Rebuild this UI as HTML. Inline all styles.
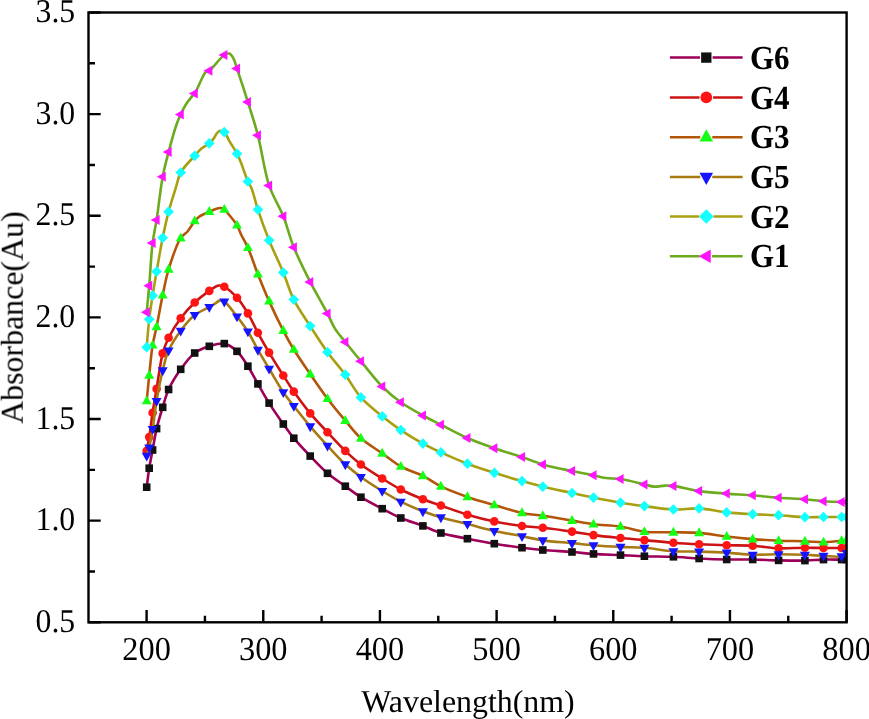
<!DOCTYPE html><html><head><meta charset="utf-8"><title>UV-Vis absorbance</title>
<style>html,body{margin:0;padding:0;background:#fff;}body{width:869px;height:719px;overflow:hidden;}svg{display:block;will-change:transform;}text{font-family:"Liberation Serif",serif;fill:#000;font-kerning:normal;text-rendering:geometricPrecision;}</style></head><body>
<svg width="869" height="719" viewBox="0 0 869 719">
<rect width="869" height="719" fill="#fff"/>
<defs><clipPath id="cp"><rect x="88.5" y="12.5" width="758.1" height="609.8"/></clipPath></defs>
<g clip-path="url(#cp)">
<path d="M146.70,487.20C147.53,480.87 148.21,474.45 149.20,468.20C150.18,462.05 151.42,456.31 152.60,450.00C153.88,443.16 154.93,435.69 156.60,428.60C158.29,421.45 160.61,414.06 162.70,407.30C164.62,401.08 165.86,395.47 168.60,389.50C171.67,382.81 176.23,375.50 180.70,369.30C184.97,363.38 189.52,356.90 194.70,353.00C199.18,349.62 204.30,347.87 209.30,346.30C214.17,344.77 219.66,342.74 224.30,343.60C228.88,344.45 233.23,347.84 237.00,351.30C241.21,355.16 244.49,360.91 247.90,366.20C251.48,371.75 254.45,377.89 257.90,383.90C261.51,390.18 265.02,396.64 269.10,403.10C273.44,409.99 278.86,417.74 283.30,424.00C287.01,429.23 289.76,433.30 293.80,438.20C298.53,443.94 304.59,450.26 310.20,456.10C315.82,461.96 321.49,468.18 327.50,473.30C333.21,478.16 339.55,482.09 345.30,486.20C350.66,490.03 355.18,493.66 360.90,497.20C367.34,501.19 375.31,505.12 382.20,508.70C388.58,512.02 394.24,515.20 400.80,518.00C407.76,520.97 415.93,523.28 422.90,525.90C429.23,528.28 434.23,530.98 440.90,533.00C448.79,535.39 458.52,536.92 467.40,538.70C476.32,540.49 485.25,542.21 494.30,543.70C503.45,545.21 513.42,546.61 522.00,547.70C529.42,548.65 535.27,549.33 542.80,550.00C551.70,550.80 563.01,551.30 572.00,552.00C579.72,552.61 585.92,553.40 593.50,553.90C601.98,554.46 611.77,554.71 620.50,555.10C628.71,555.47 636.05,555.92 644.40,556.20C653.60,556.51 664.03,556.39 673.40,556.80C682.23,557.18 690.38,558.05 699.10,558.50C708.13,558.96 717.64,559.34 726.70,559.50C735.49,559.66 744.04,559.35 752.70,559.50C761.34,559.65 769.93,560.22 778.60,560.40C787.33,560.58 796.89,560.78 804.90,560.60C811.64,560.44 817.34,559.77 823.50,559.60C829.57,559.44 837.44,559.64 841.60,559.60C843.79,559.58 844.93,559.53 846.60,559.50" fill="none" stroke="#9E0059" stroke-width="2.6" stroke-linejoin="round" stroke-linecap="round"/>
<g><rect x="142.90" y="483.40" width="7.60" height="7.60" fill="#111111"/><rect x="145.40" y="464.40" width="7.60" height="7.60" fill="#111111"/><rect x="148.80" y="446.20" width="7.60" height="7.60" fill="#111111"/><rect x="152.80" y="424.80" width="7.60" height="7.60" fill="#111111"/><rect x="158.90" y="403.50" width="7.60" height="7.60" fill="#111111"/><rect x="164.80" y="385.70" width="7.60" height="7.60" fill="#111111"/><rect x="176.90" y="365.50" width="7.60" height="7.60" fill="#111111"/><rect x="190.90" y="349.20" width="7.60" height="7.60" fill="#111111"/><rect x="205.50" y="342.50" width="7.60" height="7.60" fill="#111111"/><rect x="220.50" y="339.80" width="7.60" height="7.60" fill="#111111"/><rect x="233.20" y="347.50" width="7.60" height="7.60" fill="#111111"/><rect x="244.10" y="362.40" width="7.60" height="7.60" fill="#111111"/><rect x="254.10" y="380.10" width="7.60" height="7.60" fill="#111111"/><rect x="265.30" y="399.30" width="7.60" height="7.60" fill="#111111"/><rect x="279.50" y="420.20" width="7.60" height="7.60" fill="#111111"/><rect x="290.00" y="434.40" width="7.60" height="7.60" fill="#111111"/><rect x="306.40" y="452.30" width="7.60" height="7.60" fill="#111111"/><rect x="323.70" y="469.50" width="7.60" height="7.60" fill="#111111"/><rect x="341.50" y="482.40" width="7.60" height="7.60" fill="#111111"/><rect x="357.10" y="493.40" width="7.60" height="7.60" fill="#111111"/><rect x="378.40" y="504.90" width="7.60" height="7.60" fill="#111111"/><rect x="397.00" y="514.20" width="7.60" height="7.60" fill="#111111"/><rect x="419.10" y="522.10" width="7.60" height="7.60" fill="#111111"/><rect x="437.10" y="529.20" width="7.60" height="7.60" fill="#111111"/><rect x="463.60" y="534.90" width="7.60" height="7.60" fill="#111111"/><rect x="490.50" y="539.90" width="7.60" height="7.60" fill="#111111"/><rect x="518.20" y="543.90" width="7.60" height="7.60" fill="#111111"/><rect x="539.00" y="546.20" width="7.60" height="7.60" fill="#111111"/><rect x="568.20" y="548.20" width="7.60" height="7.60" fill="#111111"/><rect x="589.70" y="550.10" width="7.60" height="7.60" fill="#111111"/><rect x="616.70" y="551.30" width="7.60" height="7.60" fill="#111111"/><rect x="640.60" y="552.40" width="7.60" height="7.60" fill="#111111"/><rect x="669.60" y="553.00" width="7.60" height="7.60" fill="#111111"/><rect x="695.30" y="554.70" width="7.60" height="7.60" fill="#111111"/><rect x="722.90" y="555.70" width="7.60" height="7.60" fill="#111111"/><rect x="748.90" y="555.70" width="7.60" height="7.60" fill="#111111"/><rect x="774.80" y="556.60" width="7.60" height="7.60" fill="#111111"/><rect x="801.10" y="556.80" width="7.60" height="7.60" fill="#111111"/><rect x="819.70" y="555.80" width="7.60" height="7.60" fill="#111111"/><rect x="837.80" y="555.80" width="7.60" height="7.60" fill="#111111"/><rect x="842.80" y="555.70" width="7.60" height="7.60" fill="#111111"/></g>
<path d="M146.70,450.70C147.53,446.17 148.36,442.30 149.20,437.10C150.32,430.16 151.36,420.77 152.60,412.70C153.83,404.71 155.12,397.62 156.60,388.90C158.41,378.24 160.16,362.74 162.70,353.40C164.43,347.05 165.96,343.17 168.60,337.80C171.70,331.49 176.23,324.19 180.70,318.20C184.97,312.47 189.77,307.15 194.70,302.50C199.34,298.12 204.94,293.91 209.30,290.90C212.55,288.66 215.43,286.08 218.20,285.60C220.35,285.23 222.06,285.71 224.30,286.80C227.98,288.58 233.17,293.46 237.00,297.70C241.09,302.24 244.52,307.77 247.90,313.40C251.52,319.42 254.41,326.33 257.90,332.80C261.47,339.40 265.07,345.80 269.10,352.60C273.48,360.00 278.89,368.56 283.30,375.50C287.03,381.36 289.80,385.90 293.80,391.60C298.56,398.39 304.48,406.54 310.20,413.40C315.73,420.04 321.67,425.97 327.50,432.20C333.36,438.47 339.43,445.28 345.30,450.90C350.55,455.93 355.13,460.12 360.90,464.50C367.30,469.36 375.29,474.19 382.20,478.50C388.56,482.47 394.23,486.13 400.80,489.50C407.75,493.06 415.86,496.43 422.90,499.20C429.16,501.66 434.32,503.21 440.90,505.50C448.88,508.28 458.47,512.04 467.40,514.70C476.27,517.34 485.23,519.52 494.30,521.40C503.43,523.29 513.41,524.92 522.00,526.00C529.41,526.93 535.29,526.99 542.80,527.80C551.72,528.77 563.02,530.29 572.00,531.60C579.72,532.73 585.91,534.08 593.50,535.10C601.97,536.24 611.77,537.15 620.50,538.00C628.71,538.80 636.05,539.34 644.40,540.10C653.60,540.93 664.02,542.09 673.40,542.80C682.22,543.47 690.38,543.89 699.10,544.30C708.13,544.73 717.64,545.07 726.70,545.30C735.49,545.53 744.05,545.20 752.70,545.70C761.35,546.20 769.92,547.96 778.60,548.30C787.32,548.64 796.89,547.73 804.90,547.70C811.64,547.68 817.34,547.95 823.50,548.00C829.57,548.05 837.44,548.00 841.60,548.00C843.78,548.00 844.93,548.00 846.60,548.00" fill="none" stroke="#CC1414" stroke-width="2.6" stroke-linejoin="round" stroke-linecap="round"/>
<g><circle cx="146.70" cy="450.70" r="4.30" fill="#FF1414"/><circle cx="149.20" cy="437.10" r="4.30" fill="#FF1414"/><circle cx="152.60" cy="412.70" r="4.30" fill="#FF1414"/><circle cx="156.60" cy="388.90" r="4.30" fill="#FF1414"/><circle cx="162.70" cy="353.40" r="4.30" fill="#FF1414"/><circle cx="168.60" cy="337.80" r="4.30" fill="#FF1414"/><circle cx="180.70" cy="318.20" r="4.30" fill="#FF1414"/><circle cx="194.70" cy="302.50" r="4.30" fill="#FF1414"/><circle cx="209.30" cy="290.90" r="4.30" fill="#FF1414"/><circle cx="224.30" cy="286.80" r="4.30" fill="#FF1414"/><circle cx="237.00" cy="297.70" r="4.30" fill="#FF1414"/><circle cx="247.90" cy="313.40" r="4.30" fill="#FF1414"/><circle cx="257.90" cy="332.80" r="4.30" fill="#FF1414"/><circle cx="269.10" cy="352.60" r="4.30" fill="#FF1414"/><circle cx="283.30" cy="375.50" r="4.30" fill="#FF1414"/><circle cx="293.80" cy="391.60" r="4.30" fill="#FF1414"/><circle cx="310.20" cy="413.40" r="4.30" fill="#FF1414"/><circle cx="327.50" cy="432.20" r="4.30" fill="#FF1414"/><circle cx="345.30" cy="450.90" r="4.30" fill="#FF1414"/><circle cx="360.90" cy="464.50" r="4.30" fill="#FF1414"/><circle cx="382.20" cy="478.50" r="4.30" fill="#FF1414"/><circle cx="400.80" cy="489.50" r="4.30" fill="#FF1414"/><circle cx="422.90" cy="499.20" r="4.30" fill="#FF1414"/><circle cx="440.90" cy="505.50" r="4.30" fill="#FF1414"/><circle cx="467.40" cy="514.70" r="4.30" fill="#FF1414"/><circle cx="494.30" cy="521.40" r="4.30" fill="#FF1414"/><circle cx="522.00" cy="526.00" r="4.30" fill="#FF1414"/><circle cx="542.80" cy="527.80" r="4.30" fill="#FF1414"/><circle cx="572.00" cy="531.60" r="4.30" fill="#FF1414"/><circle cx="593.50" cy="535.10" r="4.30" fill="#FF1414"/><circle cx="620.50" cy="538.00" r="4.30" fill="#FF1414"/><circle cx="644.40" cy="540.10" r="4.30" fill="#FF1414"/><circle cx="673.40" cy="542.80" r="4.30" fill="#FF1414"/><circle cx="699.10" cy="544.30" r="4.30" fill="#FF1414"/><circle cx="726.70" cy="545.30" r="4.30" fill="#FF1414"/><circle cx="752.70" cy="545.70" r="4.30" fill="#FF1414"/><circle cx="778.60" cy="548.30" r="4.30" fill="#FF1414"/><circle cx="804.90" cy="547.70" r="4.30" fill="#FF1414"/><circle cx="823.50" cy="548.00" r="4.30" fill="#FF1414"/><circle cx="841.60" cy="548.00" r="4.30" fill="#FF1414"/><circle cx="846.60" cy="548.00" r="4.30" fill="#FF1414"/></g>
<path d="M146.70,401.00C147.53,392.47 148.27,384.28 149.20,375.40C150.21,365.75 151.15,353.99 152.60,345.20C153.74,338.28 155.17,333.77 156.60,326.80C158.47,317.67 160.59,305.10 162.70,295.10C164.61,286.07 165.88,278.29 168.60,269.40C171.67,259.37 176.52,244.42 180.70,238.10C182.92,234.74 185.70,233.61 187.50,231.50C188.92,229.84 189.75,228.38 190.90,226.70C192.14,224.89 193.38,222.63 194.70,221.00C195.83,219.60 196.93,218.41 198.20,217.40C199.41,216.43 200.58,215.83 202.10,215.00C204.11,213.91 206.95,212.64 209.30,211.60C211.51,210.62 213.77,209.51 215.80,208.90C217.49,208.40 219.12,207.85 220.60,208.00C221.93,208.13 223.12,208.68 224.30,209.50C225.75,210.51 226.83,212.12 228.40,214.00C230.79,216.86 234.81,221.51 237.00,225.20C238.86,228.33 239.50,231.16 241.10,234.50C243.03,238.54 245.57,242.46 247.90,247.70C251.12,254.93 254.39,265.36 257.90,274.20C261.46,283.16 265.01,291.98 269.10,301.10C273.43,310.76 278.80,321.91 283.30,330.60C286.96,337.66 289.76,342.87 293.80,349.50C298.53,357.25 304.61,365.93 310.20,374.10C315.84,382.34 321.55,390.84 327.50,398.70C333.26,406.32 339.50,413.74 345.30,420.60C350.61,426.87 354.94,432.96 360.90,438.30C367.16,443.91 375.34,448.45 382.20,453.30C388.61,457.83 394.12,462.76 400.80,466.50C407.66,470.33 416.01,472.44 422.90,475.90C429.32,479.12 434.18,483.13 440.90,486.40C448.75,490.22 458.47,493.79 467.40,496.90C476.27,499.99 485.26,502.35 494.30,505.00C503.46,507.68 513.37,511.08 522.00,512.90C529.37,514.46 535.29,514.66 542.80,515.80C551.72,517.15 563.01,519.11 572.00,520.60C579.72,521.88 585.91,523.24 593.50,524.20C601.97,525.27 611.82,525.19 620.50,526.50C628.75,527.74 636.00,530.71 644.40,531.70C653.55,532.78 664.03,532.09 673.40,532.30C682.23,532.49 690.40,532.23 699.10,532.90C708.15,533.59 717.63,535.46 726.70,536.50C735.49,537.51 744.04,538.40 752.70,539.10C761.34,539.80 769.93,540.33 778.60,540.70C787.33,541.07 796.89,541.01 804.90,541.30C811.64,541.54 817.35,542.31 823.50,542.20C829.58,542.10 837.45,541.20 841.60,540.70C843.79,540.43 844.93,540.17 846.60,539.90" fill="none" stroke="#B3560A" stroke-width="2.6" stroke-linejoin="round" stroke-linecap="round"/>
<g><path d="M141.70,404.35L151.70,404.35L146.70,395.45Z" fill="#14FF14"/><path d="M144.20,378.75L154.20,378.75L149.20,369.85Z" fill="#14FF14"/><path d="M147.60,348.55L157.60,348.55L152.60,339.65Z" fill="#14FF14"/><path d="M151.60,330.15L161.60,330.15L156.60,321.25Z" fill="#14FF14"/><path d="M157.70,298.45L167.70,298.45L162.70,289.55Z" fill="#14FF14"/><path d="M163.60,272.75L173.60,272.75L168.60,263.85Z" fill="#14FF14"/><path d="M175.70,241.45L185.70,241.45L180.70,232.55Z" fill="#14FF14"/><path d="M189.70,224.35L199.70,224.35L194.70,215.45Z" fill="#14FF14"/><path d="M204.30,214.95L214.30,214.95L209.30,206.05Z" fill="#14FF14"/><path d="M219.30,212.85L229.30,212.85L224.30,203.95Z" fill="#14FF14"/><path d="M232.00,228.55L242.00,228.55L237.00,219.65Z" fill="#14FF14"/><path d="M242.90,251.05L252.90,251.05L247.90,242.15Z" fill="#14FF14"/><path d="M252.90,277.55L262.90,277.55L257.90,268.65Z" fill="#14FF14"/><path d="M264.10,304.45L274.10,304.45L269.10,295.55Z" fill="#14FF14"/><path d="M278.30,333.95L288.30,333.95L283.30,325.05Z" fill="#14FF14"/><path d="M288.80,352.85L298.80,352.85L293.80,343.95Z" fill="#14FF14"/><path d="M305.20,377.45L315.20,377.45L310.20,368.55Z" fill="#14FF14"/><path d="M322.50,402.05L332.50,402.05L327.50,393.15Z" fill="#14FF14"/><path d="M340.30,423.95L350.30,423.95L345.30,415.05Z" fill="#14FF14"/><path d="M355.90,441.65L365.90,441.65L360.90,432.75Z" fill="#14FF14"/><path d="M377.20,456.65L387.20,456.65L382.20,447.75Z" fill="#14FF14"/><path d="M395.80,469.85L405.80,469.85L400.80,460.95Z" fill="#14FF14"/><path d="M417.90,479.25L427.90,479.25L422.90,470.35Z" fill="#14FF14"/><path d="M435.90,489.75L445.90,489.75L440.90,480.85Z" fill="#14FF14"/><path d="M462.40,500.25L472.40,500.25L467.40,491.35Z" fill="#14FF14"/><path d="M489.30,508.35L499.30,508.35L494.30,499.45Z" fill="#14FF14"/><path d="M517.00,516.25L527.00,516.25L522.00,507.35Z" fill="#14FF14"/><path d="M537.80,519.15L547.80,519.15L542.80,510.25Z" fill="#14FF14"/><path d="M567.00,523.95L577.00,523.95L572.00,515.05Z" fill="#14FF14"/><path d="M588.50,527.55L598.50,527.55L593.50,518.65Z" fill="#14FF14"/><path d="M615.50,529.85L625.50,529.85L620.50,520.95Z" fill="#14FF14"/><path d="M639.40,535.05L649.40,535.05L644.40,526.15Z" fill="#14FF14"/><path d="M668.40,535.65L678.40,535.65L673.40,526.75Z" fill="#14FF14"/><path d="M694.10,536.25L704.10,536.25L699.10,527.35Z" fill="#14FF14"/><path d="M721.70,539.85L731.70,539.85L726.70,530.95Z" fill="#14FF14"/><path d="M747.70,542.45L757.70,542.45L752.70,533.55Z" fill="#14FF14"/><path d="M773.60,544.05L783.60,544.05L778.60,535.15Z" fill="#14FF14"/><path d="M799.90,544.65L809.90,544.65L804.90,535.75Z" fill="#14FF14"/><path d="M818.50,545.55L828.50,545.55L823.50,536.65Z" fill="#14FF14"/><path d="M836.60,544.05L846.60,544.05L841.60,535.15Z" fill="#14FF14"/><path d="M841.60,543.25L851.60,543.25L846.60,534.35Z" fill="#14FF14"/></g>
<path d="M146.70,455.70C147.53,453.00 148.40,450.88 149.20,447.60C150.40,442.70 151.49,435.84 152.60,429.00C153.96,420.63 154.97,410.53 156.60,401.00C158.31,390.98 160.45,379.37 162.70,370.30C164.53,362.93 165.74,356.92 168.60,350.50C171.63,343.70 176.22,336.73 180.70,330.70C184.96,324.95 189.61,319.05 194.70,315.00C199.23,311.40 205.50,309.19 209.30,307.00C211.79,305.56 213.58,304.45 215.40,303.30C216.91,302.34 218.02,300.88 219.50,300.60C220.98,300.32 222.53,300.55 224.30,301.60C227.84,303.70 233.02,311.45 237.00,316.50C240.87,321.42 244.51,326.13 247.90,331.50C251.51,337.21 254.41,343.77 257.90,349.90C261.47,356.17 265.13,362.09 269.10,368.70C273.54,376.10 278.75,385.51 283.30,392.20C286.92,397.52 289.87,400.99 293.80,406.00C298.62,412.15 304.58,419.68 310.20,426.30C315.81,432.91 321.64,439.35 327.50,445.70C333.34,452.02 339.39,458.85 345.30,464.30C350.52,469.12 355.18,472.81 360.90,477.00C367.34,481.72 375.28,486.74 382.20,491.00C388.55,494.91 394.23,498.40 400.80,501.70C407.76,505.20 415.86,508.58 422.90,511.30C429.16,513.71 434.28,515.46 440.90,517.40C448.84,519.73 458.54,521.74 467.40,524.00C476.34,526.28 485.23,528.97 494.30,531.00C503.43,533.04 513.43,534.53 522.00,536.20C529.43,537.65 535.25,539.29 542.80,540.40C551.68,541.70 563.01,542.25 572.00,543.10C579.72,543.83 585.92,544.59 593.50,545.20C601.98,545.88 611.77,546.46 620.50,546.90C628.71,547.31 636.06,547.16 644.40,547.80C653.61,548.51 664.01,550.58 673.40,551.20C682.21,551.78 690.38,551.37 699.10,551.60C708.14,551.83 717.64,552.07 726.70,552.60C735.50,553.11 744.03,554.42 752.70,554.70C761.33,554.98 769.93,554.28 778.60,554.30C787.33,554.32 796.89,554.51 804.90,554.80C811.64,555.05 817.34,555.55 823.50,555.80C829.57,556.05 837.55,557.42 841.60,556.30C843.92,555.66 844.93,554.17 846.60,553.10" fill="none" stroke="#A87A12" stroke-width="2.6" stroke-linejoin="round" stroke-linecap="round"/>
<g><path d="M141.70,452.65L151.70,452.65L146.70,461.55Z" fill="#1414FF"/><path d="M144.20,444.55L154.20,444.55L149.20,453.45Z" fill="#1414FF"/><path d="M147.60,425.95L157.60,425.95L152.60,434.85Z" fill="#1414FF"/><path d="M151.60,397.95L161.60,397.95L156.60,406.85Z" fill="#1414FF"/><path d="M157.70,367.25L167.70,367.25L162.70,376.15Z" fill="#1414FF"/><path d="M163.60,347.45L173.60,347.45L168.60,356.35Z" fill="#1414FF"/><path d="M175.70,327.65L185.70,327.65L180.70,336.55Z" fill="#1414FF"/><path d="M189.70,311.95L199.70,311.95L194.70,320.85Z" fill="#1414FF"/><path d="M204.30,303.95L214.30,303.95L209.30,312.85Z" fill="#1414FF"/><path d="M219.30,298.55L229.30,298.55L224.30,307.45Z" fill="#1414FF"/><path d="M232.00,313.45L242.00,313.45L237.00,322.35Z" fill="#1414FF"/><path d="M242.90,328.45L252.90,328.45L247.90,337.35Z" fill="#1414FF"/><path d="M252.90,346.85L262.90,346.85L257.90,355.75Z" fill="#1414FF"/><path d="M264.10,365.65L274.10,365.65L269.10,374.55Z" fill="#1414FF"/><path d="M278.30,389.15L288.30,389.15L283.30,398.05Z" fill="#1414FF"/><path d="M288.80,402.95L298.80,402.95L293.80,411.85Z" fill="#1414FF"/><path d="M305.20,423.25L315.20,423.25L310.20,432.15Z" fill="#1414FF"/><path d="M322.50,442.65L332.50,442.65L327.50,451.55Z" fill="#1414FF"/><path d="M340.30,461.25L350.30,461.25L345.30,470.15Z" fill="#1414FF"/><path d="M355.90,473.95L365.90,473.95L360.90,482.85Z" fill="#1414FF"/><path d="M377.20,487.95L387.20,487.95L382.20,496.85Z" fill="#1414FF"/><path d="M395.80,498.65L405.80,498.65L400.80,507.55Z" fill="#1414FF"/><path d="M417.90,508.25L427.90,508.25L422.90,517.15Z" fill="#1414FF"/><path d="M435.90,514.35L445.90,514.35L440.90,523.25Z" fill="#1414FF"/><path d="M462.40,520.95L472.40,520.95L467.40,529.85Z" fill="#1414FF"/><path d="M489.30,527.95L499.30,527.95L494.30,536.85Z" fill="#1414FF"/><path d="M517.00,533.15L527.00,533.15L522.00,542.05Z" fill="#1414FF"/><path d="M537.80,537.35L547.80,537.35L542.80,546.25Z" fill="#1414FF"/><path d="M567.00,540.05L577.00,540.05L572.00,548.95Z" fill="#1414FF"/><path d="M588.50,542.15L598.50,542.15L593.50,551.05Z" fill="#1414FF"/><path d="M615.50,543.85L625.50,543.85L620.50,552.75Z" fill="#1414FF"/><path d="M639.40,544.75L649.40,544.75L644.40,553.65Z" fill="#1414FF"/><path d="M668.40,548.15L678.40,548.15L673.40,557.05Z" fill="#1414FF"/><path d="M694.10,548.55L704.10,548.55L699.10,557.45Z" fill="#1414FF"/><path d="M721.70,549.55L731.70,549.55L726.70,558.45Z" fill="#1414FF"/><path d="M747.70,551.65L757.70,551.65L752.70,560.55Z" fill="#1414FF"/><path d="M773.60,551.25L783.60,551.25L778.60,560.15Z" fill="#1414FF"/><path d="M799.90,551.75L809.90,551.75L804.90,560.65Z" fill="#1414FF"/><path d="M818.50,552.75L828.50,552.75L823.50,561.65Z" fill="#1414FF"/><path d="M836.60,553.25L846.60,553.25L841.60,562.15Z" fill="#1414FF"/><path d="M841.60,550.05L851.60,550.05L846.60,558.95Z" fill="#1414FF"/></g>
<path d="M146.70,347.20C147.53,337.87 148.16,328.12 149.20,319.20C150.16,310.98 151.37,303.49 152.60,295.60C153.84,287.63 155.09,280.28 156.60,271.60C158.39,261.29 160.56,248.32 162.70,237.80C164.59,228.52 166.38,220.13 168.60,211.70C170.73,203.62 173.52,195.24 175.70,188.20C177.49,182.43 177.92,177.55 180.70,172.50C183.90,166.69 190.82,160.19 194.70,155.80C197.33,152.83 199.02,150.61 201.50,148.50C203.90,146.46 207.12,145.18 209.30,143.30C211.18,141.68 212.70,139.85 214.00,138.10C215.14,136.55 215.77,134.65 216.80,133.40C217.64,132.39 218.38,131.27 219.50,131.00C220.81,130.68 222.88,131.12 224.30,132.20C226.33,133.73 227.44,137.73 229.30,140.90C231.57,144.77 234.93,149.70 237.00,153.70C238.71,157.02 239.62,159.42 241.10,163.10C243.15,168.19 245.84,176.94 247.90,181.50C249.18,184.34 250.28,185.26 251.50,188.20C253.58,193.25 255.34,201.87 257.90,209.60C261.00,218.95 264.96,230.00 269.10,240.30C273.40,251.00 279.02,262.27 283.30,272.60C287.18,281.96 289.43,290.84 293.80,299.60C298.33,308.69 304.59,317.34 310.20,326.10C315.82,334.88 321.51,343.94 327.50,352.20C333.23,360.10 339.68,367.09 345.30,374.70C350.80,382.16 354.82,390.51 360.90,397.40C367.09,404.40 375.22,410.63 382.20,416.30C388.50,421.41 394.23,425.67 400.80,430.10C407.75,434.79 415.82,439.72 422.90,443.60C429.12,447.01 434.28,449.37 440.90,452.40C448.84,456.03 458.47,460.29 467.40,463.70C476.27,467.09 485.24,469.91 494.30,472.80C503.44,475.71 513.41,478.66 522.00,481.10C529.41,483.21 535.25,484.87 542.80,486.70C551.69,488.85 563.01,491.07 572.00,493.00C579.71,494.66 585.92,496.07 593.50,497.60C601.98,499.31 611.76,501.25 620.50,502.70C628.69,504.06 636.04,505.02 644.40,506.10C653.59,507.29 664.01,509.15 673.40,509.50C682.21,509.83 690.40,507.96 699.10,508.40C708.16,508.86 717.62,511.43 726.70,512.40C735.48,513.34 744.04,513.73 752.70,514.20C761.34,514.67 769.94,514.70 778.60,515.20C787.34,515.70 796.89,516.94 804.90,517.20C811.63,517.42 817.34,517.03 823.50,517.00C829.57,516.97 837.44,517.00 841.60,517.00C843.78,517.00 844.93,517.00 846.60,517.00" fill="none" stroke="#A8A012" stroke-width="2.6" stroke-linejoin="round" stroke-linecap="round"/>
<g><path d="M141.35,347.20L146.70,341.85L152.05,347.20L146.70,352.55Z" fill="#14FFFF"/><path d="M143.85,319.20L149.20,313.85L154.55,319.20L149.20,324.55Z" fill="#14FFFF"/><path d="M147.25,295.60L152.60,290.25L157.95,295.60L152.60,300.95Z" fill="#14FFFF"/><path d="M151.25,271.60L156.60,266.25L161.95,271.60L156.60,276.95Z" fill="#14FFFF"/><path d="M157.35,237.80L162.70,232.45L168.05,237.80L162.70,243.15Z" fill="#14FFFF"/><path d="M163.25,211.70L168.60,206.35L173.95,211.70L168.60,217.05Z" fill="#14FFFF"/><path d="M175.35,172.50L180.70,167.15L186.05,172.50L180.70,177.85Z" fill="#14FFFF"/><path d="M189.35,155.80L194.70,150.45L200.05,155.80L194.70,161.15Z" fill="#14FFFF"/><path d="M203.95,143.30L209.30,137.95L214.65,143.30L209.30,148.65Z" fill="#14FFFF"/><path d="M218.95,132.20L224.30,126.85L229.65,132.20L224.30,137.55Z" fill="#14FFFF"/><path d="M231.65,153.70L237.00,148.35L242.35,153.70L237.00,159.05Z" fill="#14FFFF"/><path d="M242.55,181.50L247.90,176.15L253.25,181.50L247.90,186.85Z" fill="#14FFFF"/><path d="M252.55,209.60L257.90,204.25L263.25,209.60L257.90,214.95Z" fill="#14FFFF"/><path d="M263.75,240.30L269.10,234.95L274.45,240.30L269.10,245.65Z" fill="#14FFFF"/><path d="M277.95,272.60L283.30,267.25L288.65,272.60L283.30,277.95Z" fill="#14FFFF"/><path d="M288.45,299.60L293.80,294.25L299.15,299.60L293.80,304.95Z" fill="#14FFFF"/><path d="M304.85,326.10L310.20,320.75L315.55,326.10L310.20,331.45Z" fill="#14FFFF"/><path d="M322.15,352.20L327.50,346.85L332.85,352.20L327.50,357.55Z" fill="#14FFFF"/><path d="M339.95,374.70L345.30,369.35L350.65,374.70L345.30,380.05Z" fill="#14FFFF"/><path d="M355.55,397.40L360.90,392.05L366.25,397.40L360.90,402.75Z" fill="#14FFFF"/><path d="M376.85,416.30L382.20,410.95L387.55,416.30L382.20,421.65Z" fill="#14FFFF"/><path d="M395.45,430.10L400.80,424.75L406.15,430.10L400.80,435.45Z" fill="#14FFFF"/><path d="M417.55,443.60L422.90,438.25L428.25,443.60L422.90,448.95Z" fill="#14FFFF"/><path d="M435.55,452.40L440.90,447.05L446.25,452.40L440.90,457.75Z" fill="#14FFFF"/><path d="M462.05,463.70L467.40,458.35L472.75,463.70L467.40,469.05Z" fill="#14FFFF"/><path d="M488.95,472.80L494.30,467.45L499.65,472.80L494.30,478.15Z" fill="#14FFFF"/><path d="M516.65,481.10L522.00,475.75L527.35,481.10L522.00,486.45Z" fill="#14FFFF"/><path d="M537.45,486.70L542.80,481.35L548.15,486.70L542.80,492.05Z" fill="#14FFFF"/><path d="M566.65,493.00L572.00,487.65L577.35,493.00L572.00,498.35Z" fill="#14FFFF"/><path d="M588.15,497.60L593.50,492.25L598.85,497.60L593.50,502.95Z" fill="#14FFFF"/><path d="M615.15,502.70L620.50,497.35L625.85,502.70L620.50,508.05Z" fill="#14FFFF"/><path d="M639.05,506.10L644.40,500.75L649.75,506.10L644.40,511.45Z" fill="#14FFFF"/><path d="M668.05,509.50L673.40,504.15L678.75,509.50L673.40,514.85Z" fill="#14FFFF"/><path d="M693.75,508.40L699.10,503.05L704.45,508.40L699.10,513.75Z" fill="#14FFFF"/><path d="M721.35,512.40L726.70,507.05L732.05,512.40L726.70,517.75Z" fill="#14FFFF"/><path d="M747.35,514.20L752.70,508.85L758.05,514.20L752.70,519.55Z" fill="#14FFFF"/><path d="M773.25,515.20L778.60,509.85L783.95,515.20L778.60,520.55Z" fill="#14FFFF"/><path d="M799.55,517.20L804.90,511.85L810.25,517.20L804.90,522.55Z" fill="#14FFFF"/><path d="M818.15,517.00L823.50,511.65L828.85,517.00L823.50,522.35Z" fill="#14FFFF"/><path d="M836.25,517.00L841.60,511.65L846.95,517.00L841.60,522.35Z" fill="#14FFFF"/><path d="M841.25,517.00L846.60,511.65L851.95,517.00L846.60,522.35Z" fill="#14FFFF"/></g>
<path d="M146.70,312.30C147.53,303.47 148.34,295.69 149.20,285.80C150.29,273.24 151.08,255.05 152.60,243.00C153.72,234.09 155.20,228.81 156.60,219.90C158.51,207.75 160.36,189.05 162.70,176.70C164.49,167.28 166.37,160.44 168.60,152.00C170.97,143.00 174.19,131.14 176.60,124.30C178.06,120.15 179.15,117.79 180.70,114.50C182.33,111.03 184.28,107.04 186.20,104.00C187.81,101.44 189.63,99.17 191.20,97.30C192.43,95.84 193.47,95.39 194.70,93.60C196.97,90.30 200.11,81.88 202.20,78.00C203.49,75.60 204.21,73.52 205.60,72.30C206.68,71.35 207.79,71.75 209.30,70.70C212.81,68.26 220.37,57.36 224.30,55.00C226.22,53.85 227.83,53.16 229.30,53.60C230.91,54.08 232.23,56.29 233.40,58.30C234.95,60.96 235.50,64.18 237.00,68.60C239.68,76.54 244.41,90.85 247.90,102.00C251.37,113.09 254.68,123.01 257.90,135.30C261.81,150.24 264.22,170.93 269.10,185.40C273.07,197.18 279.15,205.89 283.30,216.30C287.36,226.50 289.56,236.72 293.80,247.20C298.40,258.56 304.49,270.68 310.20,281.90C315.74,292.79 323.03,304.98 327.50,313.60C330.52,319.42 331.87,323.71 334.80,328.40C337.79,333.19 341.42,337.10 345.30,342.00C349.95,347.88 355.26,354.39 360.90,361.20C367.42,369.08 375.04,379.31 382.20,386.50C388.35,392.68 394.12,397.52 400.80,402.30C407.66,407.21 415.85,411.60 422.90,415.50C429.15,418.96 434.31,421.36 440.90,424.70C448.88,428.74 458.43,434.06 467.40,438.00C476.23,441.88 485.23,445.02 494.30,448.20C503.43,451.39 513.44,454.22 522.00,457.10C529.45,459.60 535.21,462.21 542.80,464.40C551.64,466.96 563.00,469.19 572.00,471.10C579.70,472.73 587.36,474.02 593.50,475.30C598.12,476.27 601.33,477.38 605.60,478.00C610.28,478.68 614.98,478.20 620.50,479.00C627.57,480.03 638.18,483.00 644.40,484.40C648.38,485.30 650.84,486.39 654.20,486.60C657.67,486.82 661.54,485.70 664.90,485.60C667.89,485.51 669.82,485.48 673.40,485.90C679.68,486.64 690.34,489.82 699.10,491.10C708.10,492.41 717.63,492.89 726.70,493.60C735.49,494.29 744.05,494.60 752.70,495.30C761.35,496.00 769.93,497.15 778.60,497.80C787.33,498.45 796.90,498.56 804.90,499.20C811.64,499.74 817.33,500.73 823.50,501.20C829.57,501.66 837.44,501.91 841.60,502.00C843.78,502.05 844.93,502.00 846.60,502.00" fill="none" stroke="#6CAA1E" stroke-width="2.6" stroke-linejoin="round" stroke-linecap="round"/>
<g><path d="M149.75,307.30L149.75,317.30L140.85,312.30Z" fill="#FF14FF"/><path d="M152.25,280.80L152.25,290.80L143.35,285.80Z" fill="#FF14FF"/><path d="M155.65,238.00L155.65,248.00L146.75,243.00Z" fill="#FF14FF"/><path d="M159.65,214.90L159.65,224.90L150.75,219.90Z" fill="#FF14FF"/><path d="M165.75,171.70L165.75,181.70L156.85,176.70Z" fill="#FF14FF"/><path d="M171.65,147.00L171.65,157.00L162.75,152.00Z" fill="#FF14FF"/><path d="M183.75,109.50L183.75,119.50L174.85,114.50Z" fill="#FF14FF"/><path d="M197.75,88.60L197.75,98.60L188.85,93.60Z" fill="#FF14FF"/><path d="M212.35,65.70L212.35,75.70L203.45,70.70Z" fill="#FF14FF"/><path d="M227.35,50.00L227.35,60.00L218.45,55.00Z" fill="#FF14FF"/><path d="M240.05,63.60L240.05,73.60L231.15,68.60Z" fill="#FF14FF"/><path d="M250.95,97.00L250.95,107.00L242.05,102.00Z" fill="#FF14FF"/><path d="M260.95,130.30L260.95,140.30L252.05,135.30Z" fill="#FF14FF"/><path d="M272.15,180.40L272.15,190.40L263.25,185.40Z" fill="#FF14FF"/><path d="M286.35,211.30L286.35,221.30L277.45,216.30Z" fill="#FF14FF"/><path d="M296.85,242.20L296.85,252.20L287.95,247.20Z" fill="#FF14FF"/><path d="M313.25,276.90L313.25,286.90L304.35,281.90Z" fill="#FF14FF"/><path d="M330.55,308.60L330.55,318.60L321.65,313.60Z" fill="#FF14FF"/><path d="M348.35,337.00L348.35,347.00L339.45,342.00Z" fill="#FF14FF"/><path d="M363.95,356.20L363.95,366.20L355.05,361.20Z" fill="#FF14FF"/><path d="M385.25,381.50L385.25,391.50L376.35,386.50Z" fill="#FF14FF"/><path d="M403.85,397.30L403.85,407.30L394.95,402.30Z" fill="#FF14FF"/><path d="M425.95,410.50L425.95,420.50L417.05,415.50Z" fill="#FF14FF"/><path d="M443.95,419.70L443.95,429.70L435.05,424.70Z" fill="#FF14FF"/><path d="M470.45,433.00L470.45,443.00L461.55,438.00Z" fill="#FF14FF"/><path d="M497.35,443.20L497.35,453.20L488.45,448.20Z" fill="#FF14FF"/><path d="M525.05,452.10L525.05,462.10L516.15,457.10Z" fill="#FF14FF"/><path d="M545.85,459.40L545.85,469.40L536.95,464.40Z" fill="#FF14FF"/><path d="M575.05,466.10L575.05,476.10L566.15,471.10Z" fill="#FF14FF"/><path d="M596.55,470.30L596.55,480.30L587.65,475.30Z" fill="#FF14FF"/><path d="M623.55,474.00L623.55,484.00L614.65,479.00Z" fill="#FF14FF"/><path d="M647.45,479.40L647.45,489.40L638.55,484.40Z" fill="#FF14FF"/><path d="M676.45,480.90L676.45,490.90L667.55,485.90Z" fill="#FF14FF"/><path d="M702.15,486.10L702.15,496.10L693.25,491.10Z" fill="#FF14FF"/><path d="M729.75,488.60L729.75,498.60L720.85,493.60Z" fill="#FF14FF"/><path d="M755.75,490.30L755.75,500.30L746.85,495.30Z" fill="#FF14FF"/><path d="M781.65,492.80L781.65,502.80L772.75,497.80Z" fill="#FF14FF"/><path d="M807.95,494.20L807.95,504.20L799.05,499.20Z" fill="#FF14FF"/><path d="M826.55,496.20L826.55,506.20L817.65,501.20Z" fill="#FF14FF"/><path d="M844.65,497.00L844.65,507.00L835.75,502.00Z" fill="#FF14FF"/><path d="M849.65,497.00L849.65,507.00L840.75,502.00Z" fill="#FF14FF"/></g>
</g>
<rect x="88.5" y="12.5" width="758.1" height="609.8" fill="none" stroke="#000" stroke-width="2.4"/>
<path d="M88.5,622.30h12.2M88.5,571.48h6.5M88.5,520.67h12.2M88.5,469.85h6.5M88.5,419.03h12.2M88.5,368.22h6.5M88.5,317.40h12.2M88.5,266.58h6.5M88.5,215.77h12.2M88.5,164.95h6.5M88.5,114.13h12.2M88.5,63.32h6.5M88.5,12.50h12.2M146.60,622.3v-12.2M263.27,622.3v-12.2M379.93,622.3v-12.2M496.60,622.3v-12.2M613.27,622.3v-12.2M729.94,622.3v-12.2M846.60,622.3v-12.2M204.93,622.3v-6.5M321.60,622.3v-6.5M438.27,622.3v-6.5M554.93,622.3v-6.5M671.60,622.3v-6.5M788.27,622.3v-6.5" stroke="#000" stroke-width="2.4" fill="none"/>
<g opacity="0.999">
<text transform="translate(75.2,632.00) scale(0.98,1.022)" font-size="32.4" text-anchor="end">0.5</text>
<text transform="translate(75.2,530.37) scale(0.98,1.022)" font-size="32.4" text-anchor="end">1.0</text>
<text transform="translate(75.2,428.73) scale(0.98,1.022)" font-size="32.4" text-anchor="end">1.5</text>
<text transform="translate(75.2,327.10) scale(0.98,1.022)" font-size="32.4" text-anchor="end">2.0</text>
<text transform="translate(75.2,225.47) scale(0.98,1.022)" font-size="32.4" text-anchor="end">2.5</text>
<text transform="translate(75.2,123.83) scale(0.98,1.022)" font-size="32.4" text-anchor="end">3.0</text>
<text transform="translate(75.2,22.20) scale(0.98,1.022)" font-size="32.4" text-anchor="end">3.5</text>
<text transform="translate(146.60,660.2) scale(1,1.03)" font-size="32.4" text-anchor="middle">200</text>
<text transform="translate(263.27,660.2) scale(1,1.03)" font-size="32.4" text-anchor="middle">300</text>
<text transform="translate(379.93,660.2) scale(1,1.03)" font-size="32.4" text-anchor="middle">400</text>
<text transform="translate(496.60,660.2) scale(1,1.03)" font-size="32.4" text-anchor="middle">500</text>
<text transform="translate(613.27,660.2) scale(1,1.03)" font-size="32.4" text-anchor="middle">600</text>
<text transform="translate(729.94,660.2) scale(1,1.03)" font-size="32.4" text-anchor="middle">700</text>
<text transform="translate(846.60,660.2) scale(1,1.03)" font-size="32.4" text-anchor="middle">800</text>
<text x="468.0" y="711.6" font-size="31.9" text-anchor="middle">Wavelength(nm)</text>
<text transform="translate(22.7,317.6) rotate(-90)" font-size="31.9" text-anchor="middle">Absorbance(Au)</text>
</g>
<path d="M669.9,57.6H700.00M712.60,57.6H742.6" stroke="#9E0059" stroke-width="2.5" fill="none"/>
<rect x="701.13" y="52.43" width="10.34" height="10.34" fill="#111111"/>
<path d="M669.9,97.4H699.50M713.10,97.4H742.6" stroke="#CC1414" stroke-width="2.5" fill="none"/>
<circle cx="706.30" cy="97.40" r="5.85" fill="#FF1414"/>
<path d="M669.9,137.3H700.30M712.30,137.3H742.6" stroke="#B3560A" stroke-width="2.5" fill="none"/>
<path d="M699.50,141.45L713.10,141.45L706.30,129.35Z" fill="#14FF14"/>
<path d="M669.9,177.0H700.30M712.30,177.0H742.6" stroke="#A87A12" stroke-width="2.5" fill="none"/>
<path d="M699.50,172.85L713.10,172.85L706.30,184.95Z" fill="#1414FF"/>
<path d="M669.9,216.5H699.10M713.50,216.5H742.6" stroke="#A8A012" stroke-width="2.5" fill="none"/>
<path d="M699.02,216.50L706.30,209.22L713.58,216.50L706.30,223.78Z" fill="#14FFFF"/>
<path d="M669.9,256.3H699.70M711.90,256.3H742.6" stroke="#6CAA1E" stroke-width="2.5" fill="none"/>
<path d="M710.75,249.50L710.75,263.10L698.65,256.30Z" fill="#FF14FF"/>
<g opacity="0.999"><text transform="translate(749.9,69.25) scale(0.985,1.07)" font-size="31.5" font-weight="bold">G6</text><text transform="translate(749.9,108.85) scale(0.985,1.07)" font-size="31.5" font-weight="bold">G4</text><text transform="translate(749.9,148.45) scale(0.985,1.07)" font-size="31.5" font-weight="bold">G3</text><text transform="translate(749.9,188.05) scale(0.985,1.07)" font-size="31.5" font-weight="bold">G5</text><text transform="translate(749.9,227.65) scale(0.985,1.07)" font-size="31.5" font-weight="bold">G2</text><text transform="translate(749.9,267.25) scale(0.985,1.07)" font-size="31.5" font-weight="bold">G1</text></g>
</svg></body></html>
